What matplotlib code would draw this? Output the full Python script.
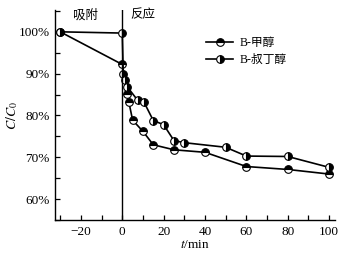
import matplotlib

matplotlib.use("Agg")
import matplotlib.pyplot as plt
from matplotlib.ticker import FuncFormatter, MultipleLocator

plt.rcParams["mathtext.fontset"] = "stix"

# B-甲醇 (methanol)
t_meoh = [-30, 0, 2.2, 3.2, 5, 10, 15, 25, 40, 60, 80, 100]
c_meoh = [100.0, 92.2, 85.2, 83.2, 78.9, 76.2, 73.0, 71.8, 71.2, 67.8, 67.1, 66.0]

# B-叔丁醇 (tert-butanol)
t_tba = [-30, 0, 0.5, 1.5, 2.5, 7.5, 10.5, 15, 20, 25, 30, 50, 60, 80, 100]
c_tba = [100.0, 99.7, 90.0, 88.4, 86.8, 83.6, 83.2, 78.8, 77.8, 74.0, 73.5, 72.4, 70.3, 70.2, 67.6]

labels = ["B-甲醇", "B-叔丁醇"]
phases = ["吸附", "反应"]

SERIF = ["Liberation Serif", "DejaVu Serif"]
CJK = ["Liberation Serif", "Noto Sans CJK SC"]

fig = plt.figure(figsize=(3.46, 2.58), dpi=100)
ax = fig.add_axes([0.159, 0.147, 0.809, 0.814])

mk = dict(color="black", linewidth=1.2, markersize=5.5, markeredgecolor="black",
          markeredgewidth=0.8, markerfacecoloralt="white", markerfacecolor="black")
ax.plot(t_meoh, c_meoh, marker="o", fillstyle="top", label=labels[0], **mk)
ax.plot(t_tba, c_tba, marker="o", fillstyle="right", label=labels[1], **mk)

ax.axvline(0, color="black", linewidth=1.0)

ax.set_xlim(-32.5, 102.8)
ax.set_ylim(55, 105.2)
ax.xaxis.set_major_locator(MultipleLocator(20))
ax.xaxis.set_minor_locator(MultipleLocator(10))
ax.yaxis.set_major_locator(MultipleLocator(10))
ax.yaxis.set_minor_locator(MultipleLocator(5))
ax.yaxis.set_major_formatter(FuncFormatter(lambda v, _p: f"{v:.0f}%"))
ax.xaxis.set_major_formatter(FuncFormatter(lambda v, _p: f"{v:.0f}".replace("-", "\u2212")))
ax.tick_params(which="both", direction="in", length=3.5, width=0.9, labelsize=9.5, pad=4)
for lab in ax.get_xticklabels() + ax.get_yticklabels():
    lab.set_fontfamily(SERIF)

ax.spines["top"].set_visible(False)
ax.spines["right"].set_visible(False)
ax.spines["left"].set_linewidth(1.0)
ax.spines["bottom"].set_linewidth(1.0)

ax.text(-18, 104, phases[0], ha="center", va="center", fontsize=9, family=CJK)
ax.text(10, 104, phases[1], ha="center", va="center", fontsize=9, family=CJK)

ax.set_ylabel("$C/C_0$", fontsize=10)
ax.yaxis.set_label_coords(-0.125, 0.5)
ax.set_xlabel("$t$/min", fontsize=9.5, labelpad=1, family=SERIF)

ax.legend(loc="upper left", bbox_to_anchor=(0.54, 0.87), frameon=False, borderpad=0,
          borderaxespad=0, prop={"family": CJK, "size": 8.5}, handlelength=2.3,
          handletextpad=0.5, labelspacing=0.4)

fig.savefig("out.png", dpi=100)
